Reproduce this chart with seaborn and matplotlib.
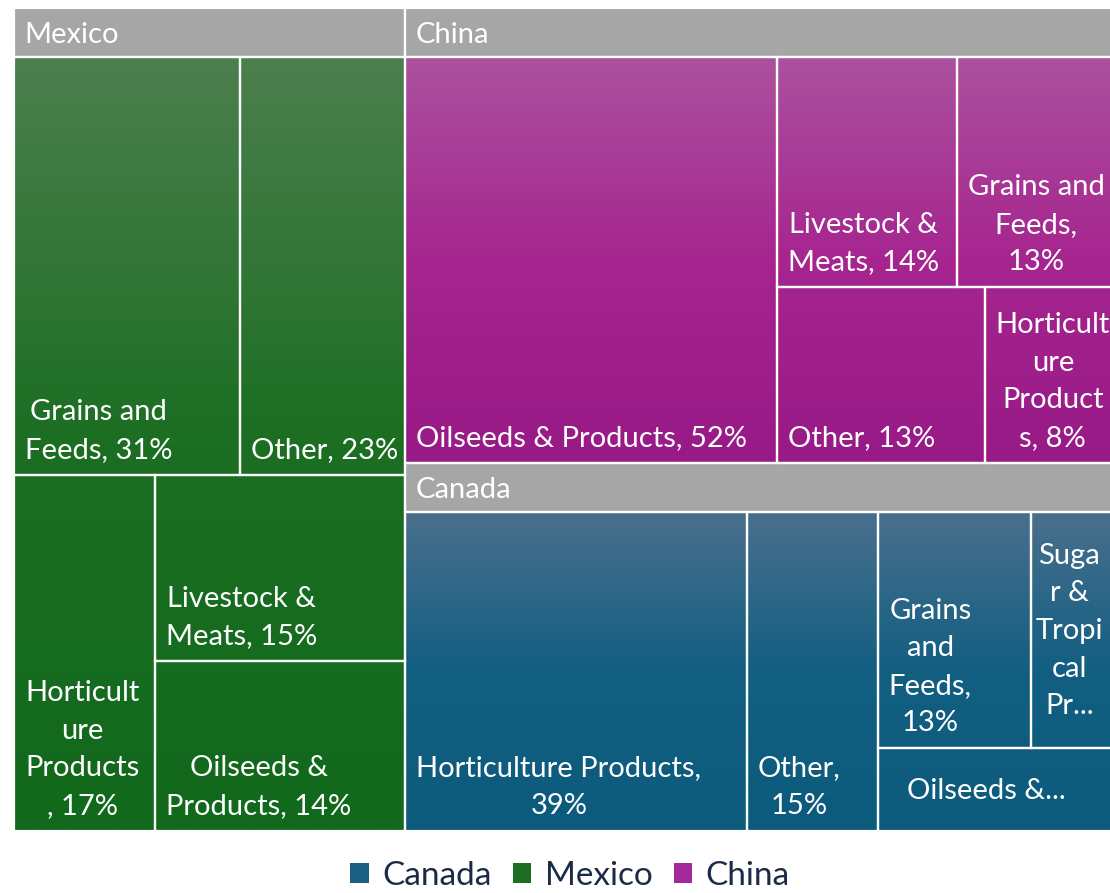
import numpy as np
import matplotlib
matplotlib.use("Agg")
import matplotlib.pyplot as plt
from matplotlib.patches import Rectangle, Patch
import seaborn as sns

# ---------------- data ----------------
countries = ["Canada", "Mexico", "China"]          # legend order

mexico_categories = ["Grains and Feeds", "Other", "Horticulture Products",
                     "Livestock & Meats", "Oilseeds & Products"]
mexico_values = [31.2, 22.8, 16.6, 15.4, 14.0]
mexico_labels = ["Grains and\nFeeds, {p}%", "Other, {p}%", "Horticult\nure\nProducts\n, {p}%",
                 "Livestock &\nMeats, {p}%", "Oilseeds &\nProducts, {p}%"]

china_categories = ["Oilseeds & Products", "Livestock & Meats", "Grains and Feeds",
                    "Other", "Horticulture Products"]
china_values = [52.4, 14.4, 12.6, 12.7, 7.9]
china_labels = ["Oilseeds & Products, {p}%", "Livestock &\nMeats, {p}%", "Grains and\nFeeds,\n{p}%",
                "Other, {p}%", "Horticult\nure\nProduct\ns, {p}%"]

canada_categories = ["Horticulture Products", "Other", "Grains and Feeds",
                     "Sugar & Tropical Products", "Oilseeds & Products"]
canada_values = [39, 15, 13, 7, 7]
canada_labels = ["Horticulture Products,\n{p}%", "Other,\n{p}%", "Grains\nand\nFeeds,\n{p}%",
                 "Suga\nr &\nTropi\ncal\nPr...", "Oilseeds &..."]

# strip structure of the treemap (number of items per strip)
top_strips = [1, 1, 1]
child_strips = {"Mexico": [2, 1, 1, 1], "China": [1, 2, 1, 1], "Canada": [1, 1, 2, 1]}

# ---------------- style ----------------
gradients = {
    "Mexico": ["#4c7f4e", "#1b6e22", "#11691c"],
    "China": ["#ab519e", "#a6258f", "#981a87"],
    "Canada": ["#4a6f8d", "#125f82", "#0c5a7c"],
}
legend_colors = {"Canada": "#1b6084", "Mexico": "#1d6e22", "China": "#a3289a"}
header_color = "#a6a6a6"
text_dark = "#1c2b45"

sns.set_style("white")
plt.rcParams["font.family"] = ["Lato", "DejaVu Sans"]

W_PX, H_PX = 1110, 893
fig = plt.figure(figsize=(W_PX / 100, H_PX / 100), dpi=100)
ax = fig.add_axes([0, 0, 1, 1])
ax.set_axis_off()

REGION = (14, 8, 1100, 823)   # x, y, w, h (pixels, y downwards)
HEADER = 49
PAD_X = 11
PAD_Y = 12
FS = 21
LW = 1.6
LSP = 1.55


def strip_layout(values, strips, x, y, w, h):
    rects = [None] * len(values)
    idx = 0
    remaining = float(sum(values))
    for n in strips:
        group = list(range(idx, idx + n))
        gsum = sum(values[i] for i in group)
        frac = gsum / remaining if remaining > 0 else 1
        if w >= h:       # column on the left
            sw = w * frac
            yy = y
            for i in group:
                hh = h * values[i] / gsum
                rects[i] = (x, yy, sw, hh)
                yy += hh
            x += sw
            w -= sw
        else:            # row on top
            sh = h * frac
            xx = x
            for i in group:
                ww = w * values[i] / gsum
                rects[i] = (xx, y, ww, sh)
                xx += ww
            y += sh
            h -= sh
        remaining -= gsum
        idx += n
    return rects


children = {
    "Mexico": (mexico_values, mexico_labels),
    "China": (china_values, china_labels),
    "Canada": (canada_values, canada_labels),
}
totals = {c: sum(children[c][0]) for c in countries}
order = sorted(countries, key=lambda c: -totals[c])
country_rects = strip_layout([totals[c] for c in order], top_strips, *REGION)

for cname, (cx, cy, cw, ch) in zip(order, country_rects):
    # header band
    ax.add_patch(Rectangle((cx, cy), cw, HEADER, facecolor=header_color,
                           edgecolor="white", lw=LW, zorder=2))
    ax.text(cx + PAD_X - 1, cy + HEADER - 14, cname, color="white", fontsize=FS,
            ha="left", va="baseline", zorder=5)
    vals, labs = children[cname]
    ty0, th = cy + HEADER, ch - HEADER
    cmap = sns.blend_palette(gradients[cname], as_cmap=True)
    rects = strip_layout(vals, child_strips[cname], cx, ty0, cw, th)
    for v, lab, (x, y, w, h) in zip(vals, labs, rects):
        t0, t1 = (y - ty0) / th, (y + h - ty0) / th
        grad = np.linspace(t0, t1, 200)[:, None]
        ax.imshow(grad, cmap=cmap, vmin=0, vmax=1, extent=(x, x + w, y + h, y),
                  origin="upper", aspect="auto", interpolation="bilinear", zorder=1)
        ax.add_patch(Rectangle((x, y), w, h, facecolor="none", edgecolor="white",
                               lw=LW, zorder=3))
        text = lab.format(p=int(round(v)))
        if text.endswith("..."):
            # truncated label: centred in the cell
            ax.text(x + w * 0.46, y + h / 2 + 1, text, color="white", fontsize=FS,
                    ha="center", va="center", multialignment="center",
                    linespacing=LSP, zorder=5)
        else:
            ax.text(x + PAD_X, y + h - PAD_Y, text, color="white",
                    fontsize=FS, ha="left", va="bottom", multialignment="center",
                    linespacing=LSP, zorder=5)

ax.set_xlim(0, W_PX)
ax.set_ylim(H_PX, 0)

handles = [Patch(facecolor=legend_colors[c], edgecolor="none", label=c) for c in countries]
leg = fig.legend(handles=handles, loc="center", bbox_to_anchor=(570 / W_PX, 1 - 876 / H_PX),
                 ncol=3, frameon=False, fontsize=24, handlelength=0.55, handleheight=0.55,
                 handletextpad=0.4, columnspacing=0.65, borderaxespad=0)
for t in leg.get_texts():
    t.set_color(text_dark)

fig.savefig("out.png", dpi=100, facecolor="white")
